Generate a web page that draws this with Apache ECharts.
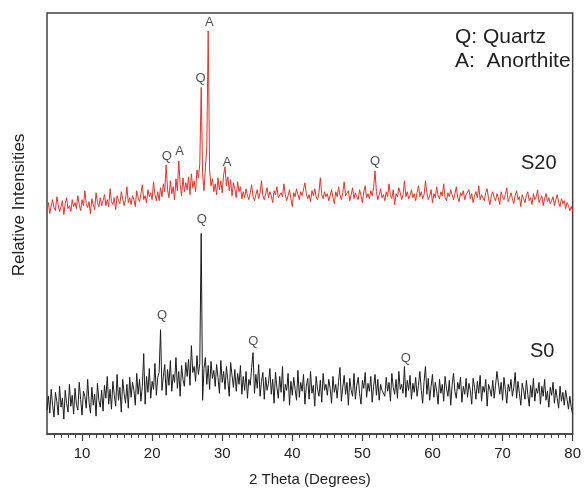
<!DOCTYPE html>
<html><head><meta charset="utf-8">
<script src="https://cdn.jsdelivr.net/npm/echarts@6/dist/echarts.min.js"></script>
<style>html,body{margin:0;padding:0;background:#fff}#c{width:584px;height:492px}</style>
</head><body><div id="c"></div>
<script>
const angleStart = 5;
const angleStep = 0.2;

const s20Values = [
226,233,222,230,236,228,225,239,231,224,229,235,221,232,238,227,230,224,236,229,
233,227,240,231,225,236,230,245,232,228,234,222,237,231,226,243,233,229,238,230,
235,241,230,236,229,247,234,231,238,226,240,235,232,244,237,230,236,249,233,238,
231,240,236,229,245,238,234,242,251,236,240,233,246,239,243,236,254,241,235,244,
235,248,239,252,244,271,246,238,255,242,249,236,257,245,275,251,240,258,244,253,
246,259,241,262,248,255,244,266,258,272,349,262,245,268,289,406,266,250,257,244,
252,241,258,246,255,243,261,269,250,259,245,256,240,253,247,238,254,244,249,237,
244,238,247,240,236,243,251,239,235,241,246,237,243,255,240,236,242,248,238,244,
240,233,245,241,249,238,236,243,239,252,241,235,240,246,237,229,243,239,247,241,
236,244,240,238,253,242,237,241,234,245,240,247,239,236,243,258,241,237,244,239,
242,235,240,246,238,232,244,239,249,241,236,243,254,240,238,245,235,241,248,237,
243,239,236,246,240,233,244,250,238,242,237,245,240,248,265,244,236,241,247,238,
241,235,244,239,252,240,237,246,231,242,239,248,243,236,241,255,239,244,237,240,
246,238,242,235,243,250,239,244,237,241,255,243,236,240,246,233,242,238,249,240,
237,244,240,252,238,235,243,239,246,241,236,242,249,238,234,243,240,245,236,241,
239,246,237,242,233,240,244,238,250,236,241,239,235,243,247,237,231,240,244,238,
235,242,238,231,244,239,236,241,248,234,238,243,237,232,240,245,236,239,229,241,
237,233,240,244,235,238,231,242,236,239,246,233,236,240,230,237,242,234,238,232,
235,239,230,236,241,233,229,237,232,235,227,233,230,225,229,224
];

const s0Values = [
24,38,21,45,29,17,42,33,19,48,27,36,15,44,31,22,50,28,39,20,
46,30,24,52,35,19,43,38,26,55,32,21,47,29,40,18,51,34,27,44,
23,49,36,58,30,45,25,53,39,28,60,34,47,22,55,41,31,50,26,57,
37,52,44,29,61,40,55,33,48,81,30,58,42,66,36,53,45,71,39,57,
62,105,44,58,70,39,65,49,74,43,60,52,77,46,63,38,69,55,48,72,
58,75,49,89,62,68,53,79,60,71,202,34,66,77,50,69,45,73,56,64,
48,70,57,41,74,52,63,45,68,54,38,72,59,47,65,43,61,50,69,40,
58,44,63,36,55,49,67,82,41,60,46,70,38,53,62,35,57,44,51,66,
40,55,31,62,47,36,58,42,68,33,50,44,61,29,53,39,57,45,34,64,
37,52,43,60,30,48,56,35,63,41,49,28,58,45,38,54,32,61,44,50,
39,55,46,31,58,42,50,36,53,67,33,47,59,40,52,29,56,44,38,61,
35,49,57,41,30,54,46,62,37,51,43,58,32,48,60,39,55,34,50,44,
46,38,57,43,52,33,61,47,40,55,36,63,45,50,41,68,37,54,44,59,
35,51,42,57,38,49,63,44,31,53,68,40,56,34,48,60,37,52,43,30,
55,41,50,33,58,46,38,54,29,49,61,43,36,52,45,57,32,48,40,56,
37,51,44,30,56,47,35,53,41,59,33,48,42,55,28,50,45,38,54,36,
49,63,61,40,52,34,57,45,31,50,43,55,38,47,62,36,53,41,29,51,
44,35,54,40,28,49,37,56,33,46,41,52,30,48,38,55,34,43,27,47,
39,52,31,45,36,26,48,33,42,29,44,35,25,38,27,20
];

const majorTicks = [10,20,30,40,50,60,70,80];
const minorTicks = [6,7,8,9,11,12,13,14,15,16,17,18,19,21,22,23,24,25,26,27,28,29,
31,32,33,34,35,36,37,38,39,41,42,43,44,45,46,47,48,49,51,52,53,54,55,56,57,58,59,
61,62,63,64,65,66,67,68,69,71,72,73,74,75,76,77,78,79];

const s20PeakLabels = [[22.1,280,'Q'],[23.9,285,'A'],[26.9,358,'Q'],[28.15,415,'A'],[30.7,274,'A'],[51.8,275,'Q']];
const s0PeakLabels = [[27.1,216,'Q'],[21.4,119,'Q'],[34.45,93,'Q'],[56.2,76,'Q']];

function toPairs(vals) {
  return vals.map((v, i) => [+(angleStart + i * angleStep).toFixed(2), v]);
}

const FONT = 'Liberation Sans, Arial, sans-serif';
const chart = echarts.init(document.getElementById('c'), null, {renderer: 'canvas'});
const labelSeries = (arr) => ({
  type: 'scatter',
  data: arr.map(d => ({value: [d[0], d[1]], name: d[2]})),
  symbolSize: 0,
  itemStyle: {color: 'rgba(0,0,0,0)'},
  label: {show: true, position: 'inside', formatter: p => p.name, fontSize: 13,
          color: '#222', fontFamily: FONT},
  silent: true, z: 5
});

chart.setOption({
  animation: false,
  backgroundColor: '#fff',
  grid: {left: 47, right: 9, top: 13, bottom: 55, show: true,
         borderColor: '#404040', borderWidth: 1.5, backgroundColor: 'transparent'},
  xAxis: [{
    type: 'value', min: 5, max: 80,
    axisLine: {show: true, lineStyle: {color: '#404040', width: 1.5}},
    axisTick: {show: true, customValues: majorTicks, length: 7, lineStyle: {color: '#404040', width: 1.2}},
    axisLabel: {customValues: majorTicks, fontSize: 15, color: '#222', margin: 12, fontFamily: FONT},
    splitLine: {show: false},
    name: '2 Theta (Degrees)', nameLocation: 'middle', nameGap: 38,
    nameTextStyle: {fontSize: 15, color: '#222', fontFamily: FONT}
  }, {
    type: 'value', min: 5, max: 80, position: 'bottom',
    axisLine: {show: false},
    axisTick: {show: true, customValues: minorTicks, length: 4, lineStyle: {color: '#404040', width: 1}},
    axisLabel: {show: false},
    splitLine: {show: false}
  }],
  yAxis: {
    type: 'value', min: 0, max: 424,
    axisLine: {show: false}, axisTick: {show: false}, axisLabel: {show: false},
    splitLine: {show: false}
  },
  series: [{
    name: 'S20', type: 'line', data: toPairs(s20Values), showSymbol: false,
    lineStyle: {color: '#e8322b', width: 1}, itemStyle: {color: '#e8322b'}, z: 3
  }, {
    name: 'S0', type: 'line', data: toPairs(s0Values), showSymbol: false,
    lineStyle: {color: '#1c1c1c', width: 1}, itemStyle: {color: '#1c1c1c'}, z: 2
  }, labelSeries(s20PeakLabels), labelSeries(s0PeakLabels)],
  graphic: [
    {type: 'text', x: 19, y: 205, rotation: Math.PI / 2,
     style: {text: 'Relative Intensities', fontSize: 17, fill: '#222', fontFamily: FONT, align: 'center', verticalAlign: 'middle'}},
    {type: 'text', left: 455, top: 27, style: {text: 'Q: Quartz', fontSize: 21, fill: '#222', fontFamily: FONT}},
    {type: 'text', left: 455, top: 51, style: {text: 'A:  Anorthite', fontSize: 21, fill: '#222', fontFamily: FONT}},
    {type: 'text', left: 521, top: 153, style: {text: 'S20', fontSize: 20, fill: '#222', fontFamily: FONT}},
    {type: 'text', left: 530, top: 341, style: {text: 'S0', fontSize: 20, fill: '#222', fontFamily: FONT}}
  ]
});
</script>
</body></html>
